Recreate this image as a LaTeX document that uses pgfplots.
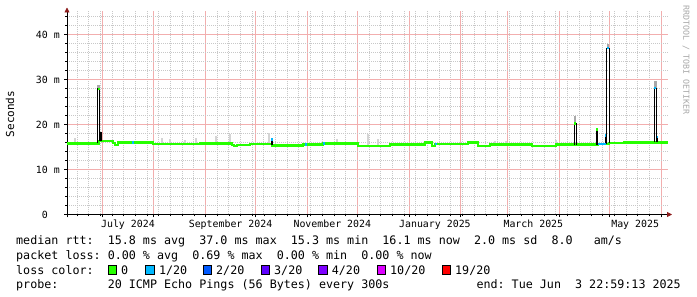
\documentclass[border=0pt]{standalone}
\usepackage{pgfplots}
\pgfplotsset{compat=1.18}
\usepackage{fontspec}
\usetikzlibrary{arrows.meta}
\newfontfamily\mono{DejaVu Sans Mono}
\definecolor{loss0}{HTML}{26FF00}
\definecolor{loss1}{HTML}{00B8FF}
\definecolor{loss2}{HTML}{0059FF}
\definecolor{loss3}{HTML}{5E00FF}
\definecolor{loss4}{HTML}{7E00FF}
\definecolor{loss10}{HTML}{DD00FF}
\definecolor{loss19}{HTML}{FF0000}
\definecolor{majgrid}{HTML}{F2AEAE}
\definecolor{mingrid}{HTML}{C8C8C8}
\definecolor{arrowred}{HTML}{8B1A1A}
\definecolor{smoke}{HTML}{D4D4D4}
\definecolor{smokedark}{HTML}{A8A8A8}
\definecolor{wmark}{HTML}{A8A8A8}
\newcommand\tickfont{\mono\fontsize{9.9bp}{11bp}\selectfont}
\newcommand\legfont{\mono\fontsize{11.7bp}{14bp}\selectfont}
\frenchspacing
\begin{document}
\begin{tikzpicture}
\useasboundingbox (0,0) rectangle (697bp,297bp);
\begin{axis}[
  at={(67bp,82.5bp)}, anchor=south west,
  scale only axis, width=601bp, height=203bp,
  xmin=9, xmax=369.2, ymin=0, ymax=45.1,
  axis x line=bottom, axis y line=left,
  axis line style={line width=0.8bp, black, -{Triangle[length=5bp,width=5bp,color=arrowred]}, shorten >=-4bp, shorten <=-3bp},
  xtick={30,61,92,122,153,183,214,245,273,304,334,365},
  xticklabels={},
  minor xtick={15,22,...,85,99,106,...,176,190,197,...,358},
  extra x ticks={45.5,107,168,229.5,288.5,349.5},
  extra x tick labels={July 2024,September 2024,November 2024,January 2025,March 2025,May 2025},
  extra x tick style={grid=none, major tick length=0pt, xticklabel style={font=\tickfont, inner sep=0pt, anchor=north, yshift=-5.5bp}},
  ytick={0,10,20,30,40},
  yticklabels={0\hphantom{00},10 m,20 m,30 m,40 m},
  minor ytick={2,4,6,8,12,14,16,18,22,24,26,28,32,34,36,38,42,44},
  yticklabel style={font=\tickfont, inner sep=0pt, anchor=east, xshift=-4bp},
  xmajorgrids=true, ymajorgrids=true, xminorgrids=true, yminorgrids=true,
  major grid style={solid, color=majgrid, line width=1bp},
  minor grid style={dash pattern=on 1bp off 1bp, color=mingrid, line width=0.9bp},
  tick align=outside, major tick length=3bp, minor tick length=2bp,
  tick style={black, line width=0.6bp},
  clip=false,
]
% light smoke
\addplot[smoke, line width=2bp, unbounded coords=jump] coordinates {
(13.8,15.9)(13.8,17.1)(13.8,nan)
(66.0,15.8)(66.0,16.9)(66.0,nan)
(70.8,15.8)(70.8,16.7)(70.8,nan)
(80.0,15.8)(80.0,16.5)(80.0,nan)
(86.3,15.8)(86.3,16.9)(86.3,nan)
(98.3,15.8)(98.3,17.5)(98.3,nan)
(106.7,15.8)(106.7,17.8)(106.7,nan)
(130.1,15.6)(130.1,18.2)(130.1,nan)
(170.8,15.9)(170.8,16.7)(170.8,nan)
(189.4,15.3)(189.4,17.8)(189.4,nan)
(195.4,15.3)(195.4,16.7)(195.4,nan)
(265.5,15.6)(265.5,16.4)(265.5,nan)
(272.1,15.6)(272.1,16.4)(272.1,nan)
(302.1,15.6)(302.1,16.6)(302.1,nan)
};
% smoke above spikes
\addplot[smokedark, line width=2.5bp, unbounded coords=jump] coordinates {
(27.9,27.9)(27.9,28.7)(27.9,nan)
(313.6,20.3)(313.6,21.8)(313.6,nan)
(333.1,37.0)(333.1,37.9)(333.1,nan)
(361.6,28.0)(361.6,29.6)(361.6,nan)
};
% median rtt
\addplot[loss0, line width=2.6bp, const plot] coordinates {
(9.0,15.78)(28.2,16.3)(36.6,15.85)(37.8,15.4)(39.6,15.95)(60.6,15.7)
(88.7,15.8)(107.9,15.45)(109.0,15.25)(111.0,15.4)(118.7,15.7)(131.9,15.3)
(150.5,15.6)(162.4,15.8)(183.4,15.2)(202.6,15.5)(223.6,16.0)(227.8,15.2)
(229.6,15.7)(249.3,15.95)(255.3,15.2)(262.5,15.5)(287.7,15.2)(302.1,15.5)
(327.3,15.65)(333.8,15.9)(342.8,16.05)(369.2,16.05)
};
% spikes
\addplot[black, line width=0.9bp, unbounded coords=jump] coordinates {
(27.1,15.8)(27.1,28.1)(27.1,nan)
(28.6,16.3)(28.6,28.1)(28.6,nan)
(313.1,15.5)(313.1,20.4)(313.1,nan)
(314.1,15.5)(314.1,20.4)(314.1,nan)
(332.4,15.7)(332.4,37.1)(332.4,nan)
(333.9,15.9)(333.9,37.1)(333.9,nan)
(361.0,16.05)(361.0,28.0)(361.0,nan)
(362.2,16.05)(362.2,28.0)(362.2,nan)
};
\addplot[black, line width=1.6bp, unbounded coords=jump] coordinates {
(29.5,16.3)(29.5,18.3)(29.5,nan)
(131.7,15.5)(131.7,16.6)(131.7,nan)
(326.6,15.5)(326.6,18.9)(326.6,nan)
(331.8,15.7)(331.8,17.6)(331.8,nan)
(362.8,16.0)(362.8,17.0)(362.8,nan)
};
% green caps
\addplot[loss0, line width=2.6bp, unbounded coords=jump] coordinates {
(27.4,27.9)(28.6,27.9)(28.6,nan)
(313.1,20.25)(314.1,20.25)(314.1,nan)
(326.1,18.9)(327.1,18.9)(327.1,nan)
};
% blue (1/20 loss) segments
\addplot[loss1, line width=2.6bp, unbounded coords=jump] coordinates {
(48.1,15.95)(49.0,15.95)(49.0,nan)
(131.3,16.7)(132.3,16.7)(132.3,nan)
(151.9,15.6)(152.9,15.6)(152.9,nan)
(162.6,15.8)(163.6,15.8)(163.6,nan)
(229.8,15.7)(230.8,15.7)(230.8,nan)
(327.3,15.7)(332.0,15.7)(332.0,nan)
(332.4,37.0)(333.9,37.0)(333.9,nan)
(361.0,28.1)(362.2,28.1)(362.2,nan)
(362.5,17.2)(363.0,17.2)(363.0,nan)
(331.6,17.6)(332.1,17.6)(332.1,nan)
};
\end{axis}
\node[rotate=90, font=\mono\fontsize{11bp}{13bp}\selectfont] at (10bp,183bp) {Seconds};
\node[rotate=-90, font=\mono\fontsize{8.3bp}{10bp}\selectfont, text=wmark, inner sep=0pt] at (686bp,237bp) {RRDTOOL / TOBI OETIKER};
\node[anchor=base west, font=\legfont, inner sep=0pt] at (16bp,52bp) {median rtt:~~15.8 ms avg~~37.0 ms max~~15.3 ms min~~16.1 ms now~~2.0 ms sd~~8.0~~~am/s};
\node[anchor=base west, font=\legfont, inner sep=0pt] at (16bp,37.5bp) {packet loss: 0.00 \% avg~~0.69 \% max~~0.00 \% min~~0.00 \% now};
\node[anchor=base west, font=\legfont, inner sep=0pt] at (16bp,23bp) {loss color:};
\foreach \c/\x/\t in {loss0/108/0, loss1/145.8/1\slash20, loss2/203/2\slash20, loss3/261/3\slash20, loss4/318.7/4\slash20, loss10/377/10\slash20, loss19/442/19\slash20}{
  \filldraw[fill=\c, draw=black, line width=0.8bp] (\x bp,23bp) rectangle ++(8.5bp,9bp);
  \node[anchor=base west, font=\legfont, inner sep=0pt] at (\x bp+13bp,23bp) {\t};
}
\node[anchor=base west, font=\legfont, inner sep=0pt] at (16bp,8.5bp) {probe:~~~~~~~20 ICMP Echo Pings (56 Bytes) every 300s};
\node[anchor=base east, font=\legfont, inner sep=0pt] at (681bp,8.5bp) {end: Tue Jun~~3 22:59:13 2025};
\end{tikzpicture}
\end{document}
